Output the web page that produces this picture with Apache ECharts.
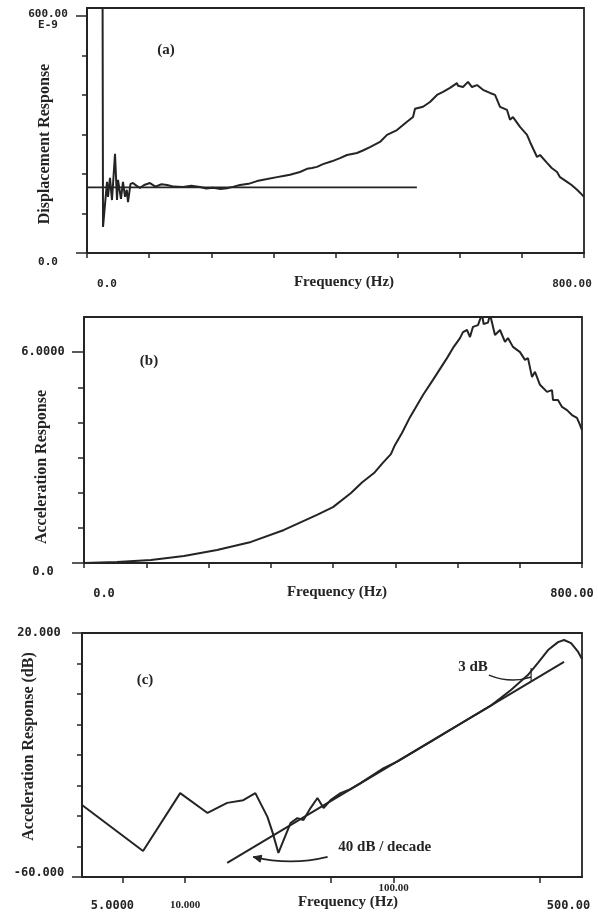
<!DOCTYPE html>
<html><head><meta charset="utf-8">
<script src="https://cdn.jsdelivr.net/npm/echarts@6/dist/echarts.min.js"></script>
<style>html,body{margin:0;padding:0;background:#fff}#c{width:598px;height:914px}</style>
</head><body><div id="c"></div>
<script>
// ---- Panel (a): displacement response (units of 1e-9) ----
const dispFreq = [24,25.8,32.2,33.8,37.0,40.2,45.1,48.3,49.9,54.7,57.9,61.2,64,66.0,70,74.0,80,85.3,92,101.4,110,120,128.8,140,154.5,168,181.9,192,202.8,215,225.4,236,246.3,260,273.6,290,305.8,316,326.8,342.8,354.1,362,370.2,379.9,394,407.3,418.5,434.6,445,455.5,471.6,482.9,499.0,515.1,524.8,528.0,540.9,552.1,563.4,573.1,584.3,595.6,597.2,605.2,613.3,619.7,627.8,637.4,648.7,656.8,664.8,676.1,680.9,685.7,697.0,708.3,713.1,724.4,729.2,740.5,748,756.6,761.4,772.7,780,788.8,794,800];
const dispValues = [1500,66,180,142,190,134,251,134,185,137,180,142,160,129,175,177,170,165,172,177,168,174,172,168,167,170,167,163,165,162,164,168,172,175,182,187,192,195,198,205,213,215,218,225,232,240,248,253,260,268,281,299,311,332,344,365,370,382,400,408,418,430,423,420,433,420,425,413,405,400,370,362,337,344,319,299,281,243,248,228,215,205,192,180,172,160,152,142];
const baselineFreq = [0, 531];
const baselineValues = [166, 166];
// ---- Panel (b): acceleration response ----
const accFreq = [0,53,107.6,160.6,213.7,268.3,321.3,374.3,400,428.9,447,465.9,480,493,499.6,510.8,523.7,544.6,560.6,583.1,592.8,604.0,608.8,615.3,620.1,624.9,632.9,639.3,642,649,652.2,660.2,668.3,676.3,681.1,689.1,700.4,708.4,713.2,719.7,724.5,732.5,743.8,751.8,753.4,761.4,767.9,775.9,783.9,791.9,796.8,800];
const accValues = [0,0.03,0.085,0.20,0.37,0.60,0.94,1.37,1.59,1.99,2.30,2.56,2.85,3.10,3.36,3.70,4.15,4.78,5.21,5.83,6.12,6.40,6.57,6.63,6.43,6.72,6.77,7.08,6.80,6.84,7.08,6.49,6.63,6.29,6.40,6.15,6.00,5.78,5.83,5.29,5.44,5.07,4.87,4.92,4.64,4.64,4.44,4.35,4.21,4.13,3.93,3.78];
// ---- Panel (c): acceleration response in dB, log frequency ----
const dbFreq = [3.2,6.28,9.46,12.8,15.9,19.0,21.7,24.8,26.2,28.0,32.0,34.5,36.9,39.9,43.1,46.1,49.8,55.6,62,69.3,89.5,104.5,150.6,217,292.7,365,440,492,550,614,656,709,767,800];
const dbValues = [-36.4,-51.5,-32.5,-39.0,-35.7,-34.8,-32.5,-40.3,-45.2,-52.1,-42.3,-40.7,-41.3,-37.4,-34.1,-37.4,-34.8,-32.5,-31.2,-29.2,-24.3,-22.1,-15.6,-9.1,-3.8,1.3,6.2,10.2,14.4,17.0,17.7,16.7,13.8,11.5];
const slopeFreq = [15.9, 656];
const slopeValues = [-55.4, 10.5];
// ---- ticks ----
const linTicksX = [0,100,200,300,400,500,600,700,800];
const dispTicksY = [0,100,200,300,400,500,600];
const accTicksY = [0,1,2,3,4,5,6];
const dbTicksY = [-60,-50,-40,-30,-20,-10,0,10,20];
const logTicksX = [5,10,50,100,500];
const logLabelsX = [5,10,100,500];
// ---- annotations (data coordinates of panel c) ----
const note3dB = {text:'3 dB', at:[240, 8.9]};
const leader3dB = [[286,6.2],[365,3.3],[456,5.6]];
const gap3dB = [[456,4.0],[456,8.5]];
const note40 = {text:'40 dB / decade', at:[90.6,-50.2]};
const arrow40 = [[48.2,-53.4],[32,-56.4],[21.2,-53.4]];

const MONO = 'DejaVu Sans Mono';
const SERIF = 'Liberation Serif';
const INK = '#242424';
const mono = s => ({fontFamily:MONO, fontWeight:'bold', fontSize:s, color:INK});
const serif = s => ({fontFamily:SERIF, fontWeight:'bold', fontSize:s, color:INK});
const fmt = v => v === 0 ? '0.0' : Number(v).toPrecision(5);
const zip = (a,b) => a.map((x,i)=>[x,b[i]]);
const first = a => a[0], last = a => a[a.length-1];

function axLine(){ return {show:true, onZero:false, lineStyle:{color:INK, width:2}}; }
function ticks(vals, len){ return {show:true, customValues:vals, length:len, lineStyle:{color:INK, width:1.5}}; }
function longTickAxis(grid, min, max, vals, len){
  return {type:'value', gridIndex:grid, position:'left', min, max,
    axisLine:{show:false}, axisTick:ticks(vals, len), axisLabel:{show:false}, splitLine:{show:false}};
}
const gridBase = {outerBoundsMode:'none', containLabel:false, show:true, borderColor:INK, borderWidth:1.8};

const option = {
  animation:false,
  backgroundColor:'#fff',
  grid:[
    {...gridBase, left:87, top:8, width:497, height:245},
    {...gridBase, left:84, top:317, width:498, height:246},
    {...gridBase, left:82, top:633, width:500, height:244}
  ],
  xAxis:[
    {type:'value', gridIndex:0, min:0, max:800, axisLine:axLine(), axisTick:ticks(linTicksX,5), splitLine:{show:false},
     axisLabel:{customValues:[first(linTicksX), last(linTicksX)], margin:26, ...mono(11),
       formatter:v => (v===0?'{l|':'{r|') + fmt(v) + '}',
       rich:{l:{...mono(11), padding:[0,0,0,40]}, r:{...mono(11), padding:[0,24,0,0]}}},
     name:'Frequency (Hz)', nameLocation:'middle', nameGap:22, nameMoveOverlap:false, nameTextStyle:{...serif(15), padding:[0,0,0,17]}},
    {type:'value', gridIndex:1, min:0, max:800, axisLine:axLine(), axisTick:ticks(linTicksX,5), splitLine:{show:false},
     axisLabel:{customValues:[first(linTicksX), last(linTicksX)], margin:25, ...mono(12),
       formatter:v => (v===0?'{l|':'{r|') + fmt(v) + '}',
       rich:{l:{...mono(12), padding:[0,0,0,40]}, r:{...mono(12), padding:[0,20,0,0]}}},
     name:'Frequency (Hz)', nameLocation:'middle', nameGap:22, nameMoveOverlap:false, nameTextStyle:{...serif(15), padding:[0,0,0,8]}},
    {type:'log', logBase:10, gridIndex:2, min:3.2, max:800, axisLine:axLine(), axisTick:ticks(logTicksX,6), splitLine:{show:false},
     axisLabel:{customValues:logLabelsX, margin:6, ...mono(12),
       formatter:v => { const r = Math.round(v);
         if (r===5) return '{a|'+fmt(v)+'}';
         if (r===10) return '{b|'+fmt(v)+'}';
         if (r===100) return '{c|'+fmt(v)+'}';
         return '{d|'+fmt(v)+'}'; },
       rich:{a:{...mono(12), padding:[17,20,0,0]}, b:{...serif(11), padding:[17,0,0,0]},
             c:{...serif(11), padding:[0,0,0,0]}, d:{...mono(12), padding:[17,0,0,58]}}},
     name:'Frequency (Hz)', nameLocation:'middle', nameGap:18, nameMoveOverlap:false, nameTextStyle:{...serif(15), padding:[0,0,0,32]}}
  ],
  yAxis:[
    {type:'value', gridIndex:0, position:'left', min:0, max:620, axisLine:axLine(), axisTick:ticks(dispTicksY,5), splitLine:{show:false},
     axisLabel:{customValues:[first(dispTicksY), last(dispTicksY)], align:'center', margin:39, ...mono(11), lineHeight:11, padding:[7,0,0,0],
       formatter:v => v===0 ? '{z|'+fmt(v)+'}' : fmt(v)+'\nE-9',
       rich:{z:{...mono(11), padding:[11,0,0,0]}}},
     name:'Displacement Response', nameLocation:'middle', nameGap:34, nameRotate:90, nameMoveOverlap:false, nameTextStyle:{...serif(16), padding:[0,27,0,0]}},
    {type:'value', gridIndex:1, position:'left', min:0, max:7, axisLine:axLine(), axisTick:ticks(accTicksY,6), splitLine:{show:false},
     axisLabel:{customValues:[first(accTicksY), last(accTicksY)], align:'center', margin:41, ...mono(12),
       formatter:v => v===0 ? '{z|'+fmt(v)+'}' : fmt(v),
       rich:{z:{...mono(12), padding:[18,0,0,0]}}},
     name:'Acceleration Response', nameLocation:'middle', nameGap:34, nameRotate:90, nameMoveOverlap:false, nameTextStyle:{...serif(16), padding:[0,54,0,0]}},
    {type:'value', gridIndex:2, position:'left', min:-60, max:20, axisLine:axLine(), axisTick:ticks(dbTicksY,5), splitLine:{show:false},
     axisLabel:{customValues:[first(dbTicksY), last(dbTicksY)], align:'center', margin:43, ...mono(12),
       formatter:v => v===-60 ? '{z|'+fmt(v)+'}' : fmt(v),
       rich:{z:{...mono(12), padding:[0,0,8,0]}}},
     name:'Acceleration Response (dB)', nameLocation:'middle', nameGap:45, nameRotate:90, nameMoveOverlap:false, nameTextStyle:{...serif(16), padding:[0,0,0,17]}},
    longTickAxis(0, 0, 620, [first(dispTicksY), last(dispTicksY)], 11),
    longTickAxis(1, 0, 7, [first(accTicksY), last(accTicksY)], 12),
    longTickAxis(2, -60, 20, [first(dbTicksY), last(dbTicksY)], 10)
  ],
  series:[
    {type:'line', xAxisIndex:0, yAxisIndex:0, data:zip(dispFreq, dispValues), showSymbol:false, symbol:'none', clip:true, lineStyle:{color:INK, width:2}},
    {type:'line', xAxisIndex:0, yAxisIndex:0, data:zip(baselineFreq, baselineValues), showSymbol:false, symbol:'none', lineStyle:{color:INK, width:1.8}},
    {type:'line', xAxisIndex:1, yAxisIndex:1, data:zip(accFreq, accValues), showSymbol:false, symbol:'none', clip:true, lineStyle:{color:INK, width:2}},
    {type:'line', xAxisIndex:2, yAxisIndex:2, data:zip(dbFreq, dbValues), showSymbol:false, symbol:'none', clip:true, lineStyle:{color:INK, width:2}},
    {type:'line', xAxisIndex:2, yAxisIndex:2, data:zip(slopeFreq, slopeValues), showSymbol:false, symbol:'none', lineStyle:{color:INK, width:2}}
  ]
};

const chart = echarts.init(document.getElementById('c'), null, {renderer:'canvas'});
chart.setOption(option);

const P = p => chart.convertToPixel({xAxisIndex:2, yAxisIndex:2}, p);
const t3 = P(note3dB.at), t40 = P(note40.at);
const L = leader3dB.map(P), G = gap3dB.map(P), A = arrow40.map(P);
const tip = A[2], dx = A[2][0]-A[1][0], dy = A[2][1]-A[1][1], dl = Math.hypot(dx,dy);
const ux = dx/dl, uy = dy/dl, nx = -uy, ny = ux;
const head = [[tip[0],tip[1]],[tip[0]-ux*8+nx*3.5, tip[1]-uy*8+ny*3.5],[tip[0]-ux*8-nx*3.5, tip[1]-uy*8-ny*3.5]];
const panelLabel = (txt, x, y) => ({type:'text', x, y, style:{text:txt, fill:INK, font:'bold 15px '+SERIF, textAlign:'center', textVerticalAlign:'middle'}});

chart.setOption({graphic:[
  panelLabel('(a)', 166, 50),
  panelLabel('(b)', 149, 361),
  panelLabel('(c)', 145, 680),
  {type:'text', x:t3[0], y:t3[1], style:{text:note3dB.text, fill:INK, font:'bold 15px '+SERIF, textAlign:'center', textVerticalAlign:'middle'}},
  {type:'bezierCurve', shape:{x1:L[0][0], y1:L[0][1], cpx1:L[1][0], cpy1:L[1][1], x2:L[2][0], y2:L[2][1]}, style:{stroke:INK, lineWidth:1.5, fill:'none'}},
  {type:'line', shape:{x1:G[0][0], y1:G[0][1], x2:G[1][0], y2:G[1][1]}, style:{stroke:INK, lineWidth:1.2}},
  {type:'text', x:t40[0], y:t40[1], style:{text:note40.text, fill:INK, font:'bold 15px '+SERIF, textAlign:'center', textVerticalAlign:'middle'}},
  {type:'bezierCurve', shape:{x1:A[0][0], y1:A[0][1], cpx1:A[1][0], cpy1:A[1][1], x2:A[2][0], y2:A[2][1]}, style:{stroke:INK, lineWidth:1.8, fill:'none'}},
  {type:'polygon', shape:{points:head}, style:{fill:INK, stroke:INK, lineWidth:1}}
]});
</script>
</body></html>
